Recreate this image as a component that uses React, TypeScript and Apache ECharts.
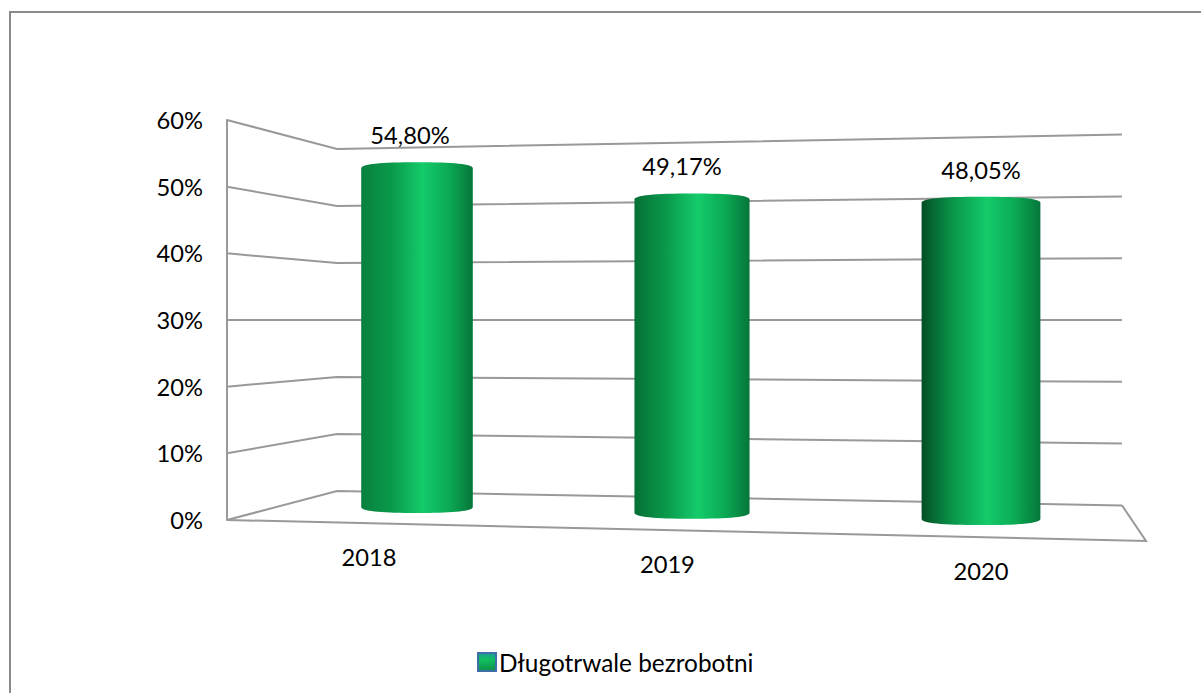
import React, { useEffect, useRef } from "react";
import * as echarts from "echarts";

const categories = ["2018", "2019", "2020"];
const seriesName = "Długotrwale bezrobotni";
const values = [54.8, 49.17, 48.05];
const valueLabels = ["54,80%", "49,17%", "48,05%"];
const gridValues = [0, 10, 20, 30, 40, 50, 60];

const FONT = "Lato, Carlito, Calibri, sans-serif";
const LINE = "#999999";
const TEXT_SIZE = 23.7;

// Perspective model: every wall/bar depth scales vertically about the 30% level.
const PIVOT_Y = 320;
const lerp = (a: number, b: number, t: number) => a + (b - a) * t;
const backScale = (x: number) => lerp(5.7, 6.18, (x - 337) / (1122 - 337));
const barScale = (x: number) => lerp(6.2, 6.6, (x - 417) / (981 - 417));
const AXIS_SCALE = 400 / 60;
const projectY = (y: number, scale: number) => PIVOT_Y + (y - PIVOT_Y) * (scale / AXIS_SCALE);
const projectX = (x: number) => x - 7 * (1 - Math.pow((x - 699) / 282, 2));
const frontY = (x: number) => lerp(520, 541, (x - 227) / (1146 - 227));
const labelNudge = [-7, -10, 0];
const leftDark = ["#08803e", "#066f35", "#034f26"];

function gridItem(params: any, api: any) {
  const y = api.coord([0, api.value(1)])[1];
  const style = { stroke: LINE, lineWidth: 2, fill: "none" };
  const children: any[] = [
    {
      type: "polyline",
      shape: { points: [[227, y], [337, projectY(y, backScale(337))], [1122, projectY(y, backScale(1122))]] },
      style,
    },
  ];
  if (api.value(1) === 0) {
    children.push({
      type: "polyline",
      shape: { points: [[227, y], [1146, frontY(1146)], [1122, projectY(y, backScale(1122))]] },
      style,
    });
  }
  return { type: "group", children };
}

function barItem(params: any, api: any) {
  const i = api.value(0);
  const v = api.value(1);
  const base = api.coord([i, 0]);
  const top = api.coord([i, v]);
  const cx = projectX(base[0]);
  const k = barScale(cx);
  const y0 = projectY(base[1], k) + 1;
  const y1 = projectY(top[1], k) + 2;
  const hw = (k * 18) / 2;
  const ry = 6;
  const d =
    `M${cx - hw} ${y1} C${cx - hw} ${y1 - ry * 0.7},${cx - hw * 0.65} ${y1 - ry},${cx} ${y1 - ry} ` +
    `C${cx + hw * 0.65} ${y1 - ry},${cx + hw} ${y1 - ry * 0.7},${cx + hw} ${y1} ` +
    `L${cx + hw} ${y0} C${cx + hw} ${y0 + ry * 0.7},${cx + hw * 0.65} ${y0 + ry},${cx} ${y0 + ry} ` +
    `C${cx - hw * 0.65} ${y0 + ry},${cx - hw} ${y0 + ry * 0.7},${cx - hw} ${y0} Z`;
  const labelX = lerp(369, 981, (cx - 417) / (981 - 417));
  return {
    type: "group",
    children: [
      {
        type: "path",
        shape: { pathData: d },
        style: {
          fill: new echarts.graphic.LinearGradient(0, 0, 1, 0, [
            { offset: 0, color: leftDark[i] },
            { offset: 0.28, color: "#0a9a4c" },
            { offset: 0.55, color: "#14cb6a" },
            { offset: 0.78, color: "#0bab55" },
            { offset: 1, color: "#06763a" },
          ]),
        },
      },
      {
        type: "text",
        style: {
          x: cx + labelNudge[i],
          y: y1 - ry - 27,
          text: valueLabels[i],
          fill: "#000",
          font: `${TEXT_SIZE}px ${FONT}`,
          align: "center",
          verticalAlign: "middle",
        },
      },
      {
        type: "text",
        style: {
          x: labelX,
          y: frontY(labelX) + 34,
          text: categories[i],
          fill: "#000",
          font: `${TEXT_SIZE}px ${FONT}`,
          align: "center",
          verticalAlign: "middle",
        },
      },
    ],
  };
}

export default function App() {
  const ref = useRef<HTMLDivElement>(null);
  useEffect(() => {
    document.body.style.margin = "0";
    const chart = echarts.init(ref.current!, undefined, { renderer: "svg" });
    chart.setOption({
      animation: false,
      backgroundColor: "#fff",
      grid: { left: 276, right: 79, top: 120, bottom: 173, containLabel: false },
      xAxis: { type: "category", data: categories, show: false },
      yAxis: {
        type: "value",
        min: 0,
        max: 60,
        interval: 10,
        offset: 49,
        axisLine: { show: true, lineStyle: { color: LINE, width: 2 } },
        axisTick: { show: false },
        splitLine: { show: false },
        axisLabel: {
          formatter: "{value}%",
          margin: 24,
          color: "#000",
          fontFamily: FONT,
          fontSize: TEXT_SIZE,
        },
      },
      legend: {
        data: [seriesName],
        left: 477,
        top: 650,
        icon: "rect",
        itemWidth: 18,
        itemHeight: 18,
        itemGap: 5,
        padding: 0,
        textStyle: { color: "#000", fontFamily: FONT, fontSize: 24.4, padding: [0, 0, 0, -2] },
        itemStyle: {
          color: new echarts.graphic.LinearGradient(0, 0, 0, 1, [
            { offset: 0, color: "#1a9a9a" },
            { offset: 0.35, color: "#12c060" },
            { offset: 1, color: "#0c9048" },
          ]),
          borderColor: "#3f6fa8",
          borderWidth: 2,
        },
      },
      graphic: [
        {
          type: "polyline",
          silent: true,
          shape: { points: [[10, 693], [10, 12], [1201, 12]] },
          style: { stroke: "#8a8a8a", lineWidth: 2, fill: "none" },
        },
      ],
      series: [
        {
          type: "custom",
          name: "grid",
          z: 1,
          renderItem: gridItem,
          encode: { x: 0, y: 1 },
          data: gridValues.map((v) => [0, v]),
          silent: true,
        },
        {
          type: "custom",
          name: seriesName,
          z: 2,
          renderItem: barItem,
          encode: { x: 0, y: 1 },
          itemStyle: { color: "#12bf62" },
          data: values.map((v, i) => [i, v]),
        },
      ],
    });
    return () => chart.dispose();
  }, []);
  return <div ref={ref} style={{ position: "absolute", left: 0, top: 0, width: 1201, height: 693 }} />;
}
